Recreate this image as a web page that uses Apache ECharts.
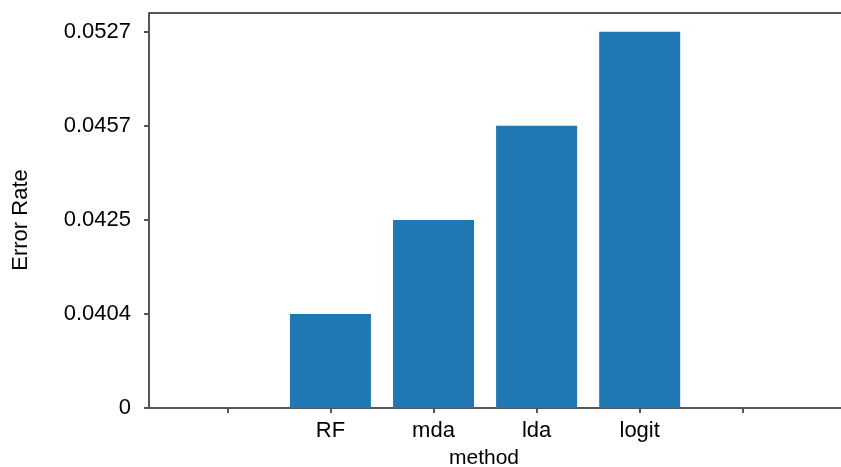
<!DOCTYPE html>
<html>
<head>
<meta charset="utf-8">
<script src="https://cdn.jsdelivr.net/npm/echarts@6/dist/echarts.min.js"></script>
<style>
  html, body { margin: 0; padding: 0; background: #fff; }
  #chart { width: 841px; height: 467px; }
</style>
</head>
<body>
<div id="chart"></div>
<script>
// slots on the x axis: blank, RF, mda, lda, logit, blank
const methods = ["RF", "mda", "lda", "logit"];
const methodSlots = [1, 2, 3, 4];
const errorRate = [0.0404, 0.0425, 0.0457, 0.0527];
// y axis labels are evenly spaced, not to scale
const yTickLabels = ["0", "0.0404", "0.0425", "0.0457", "0.0527"];

const font = "Liberation Sans, Arial, sans-serif";
const spine = "#555";

const barData = errorRate.map((v, i) => [methodSlots[i], yTickLabels.indexOf(String(v))]);

const myChart = echarts.init(document.getElementById("chart"));
myChart.setOption({
  animation: false,
  grid: { left: 149, right: -10, top: 13, bottom: 59, outerBoundsMode: "none", containLabel: false },
  xAxis: {
    type: "value",
    min: -0.76,
    max: 6.05,
    name: "method",
    nameLocation: "middle",
    nameGap: 40,
    nameTextStyle: { color: "#000", fontSize: 21, fontFamily: font, padding: [0, 32, 0, 0] },
    splitLine: { show: false },
    axisLine: { show: true, onZero: false, lineStyle: { color: spine, width: 2 } },
    axisTick: { show: true, length: 5, lineStyle: { color: spine, width: 2 }, customValues: [0, 1, 2, 3, 4, 5] },
    axisLabel: {
      customValues: methodSlots,
      margin: 12,
      color: "#000",
      fontSize: 22,
      fontFamily: font,
      formatter: (v) => methods[methodSlots.indexOf(Math.round(v))] || ""
    }
  },
  yAxis: {
    type: "value",
    min: 0,
    max: 4.2,
    name: "Error Rate",
    nameLocation: "middle",
    nameGap: 117,
    nameTextStyle: { color: "#000", fontSize: 22, fontFamily: font, padding: [0, 19, 0, 0] },
    splitLine: { show: false },
    axisLine: { show: true, onZero: false, lineStyle: { color: spine, width: 2 } },
    axisTick: { show: true, length: 5, lineStyle: { color: spine, width: 2 }, customValues: [0, 1, 2, 3, 4] },
    axisLabel: {
      customValues: [0, 1, 2, 3, 4],
      margin: 18,
      color: "#000",
      fontSize: 22,
      fontFamily: font,
      formatter: (v) => yTickLabels[Math.round(v)]
    }
  },
  graphic: [
    { type: "line", shape: { x1: 149, y1: 13, x2: 841, y2: 13 }, style: { stroke: spine, lineWidth: 2 } }
  ],
  series: [
    {
      type: "bar",
      data: barData,
      barWidth: 81,
      itemStyle: { color: "#1f77b4" }
    }
  ]
});
</script>
</body>
</html>
